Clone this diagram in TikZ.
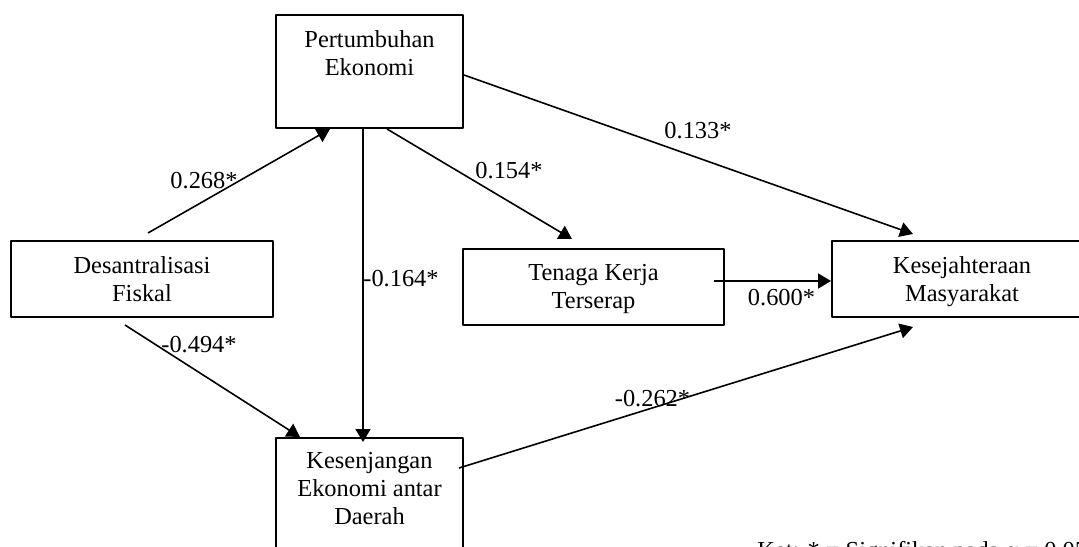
\documentclass[tikz,border=0pt]{standalone}
\usepackage{fontspec}
\setmainfont{Liberation Serif}
\usepackage{tikz}
\usetikzlibrary{arrows.meta}
\usetikzlibrary{positioning}
\tikzset{box/.style={draw, line width=1pt, inner sep=0pt}}
\tikzset{txt/.style={align=center, inner sep=0pt}}
\tikzset{lbl/.style={inner sep=0pt, anchor=base}}
\tikzset{arr/.style={line width=.8pt, -{Triangle[length=6.5pt,width=7.5pt]}}}

\begin{document}
\begin{tikzpicture}[line join=round, x=.5pt, y=-.5pt, font=\fontsize{12.2}{14}\selectfont]
            \path[use as bounding box, clip] (0,0) rectangle (1079,546);
            \node[box, minimum width=93.5pt, minimum height=56.5pt] (pe) at (369.5,71.5) {};
            \node[box, minimum width=131pt, minimum height=38pt] (df) at (142,279) {};
            \node[box, minimum width=93.5pt, minimum height=61pt] (kj) at (369.5,499) {};
            \node[box, minimum width=130.5pt, minimum height=38pt] (tk) at (593.5,287) {};
            \node[box, minimum width=130pt, minimum height=38pt] (km) at (962,279) {};
            \node[txt, below=8.2pt of pe.north] (pet) {Pertumbuhan\\Ekonomi};
            \node[txt, below=8.2pt of df.north] (dft) {Desantralisasi\\Fiskal};
            \node[txt, below=7.6pt of kj.north] (kjt) {Kesenjangan\\Ekonomi antar\\Daerah};
            \node[txt, below=8.2pt of tk.north] (tkt) {Tenaga Kerja\\Terserap};
            \node[txt, below=8.2pt of km.north] (kmt) {Kesejahteraan\\Masyarakat};
            \draw[arr] ([xshift=3pt,yshift=3.5pt]df.north) -- ([xshift=-19.75pt]pe.south);
            \draw[arr] ([xshift=-8.5pt,yshift=-3.5pt]df.south) -- ([xshift=-34.75pt]kj.north);
            \draw[arr] ([xshift=-3.25pt]pe.south) -- ([xshift=-3.25pt,yshift=-2.5pt]kj.north);
            \draw[arr] ([xshift=8.75pt]pe.south) -- ([xshift=-10.75pt,yshift=4.5pt]tk.north);
            \draw[arr] ([yshift=-1.75pt]pe.east) -- ([xshift=-24.5pt,yshift=3pt]km.north);
            \draw[arr] ([xshift=-5.5pt,yshift=3pt]tk.east) -- ([yshift=-1pt]km.west);
            \draw[arr] ([xshift=-2.5pt,yshift=-15.5pt]kj.north east) -- ([xshift=-24.5pt,yshift=-4.5pt]km.south);
            \node[lbl] (l1) at (204,188) {0.268*};
            \node[lbl] (l2) at (199,352) {-0.494*};
            \node[lbl, anchor=base west] (l3) at (363,286) {-0.164*};
            \node[lbl] (l4) at (509,178) {0.154*};
            \node[lbl] (l5) at (698,138) {0.133*};
            \node[lbl] (l6) at (781.5,305) {0.600*};
            \node[lbl] (l7) at (652.5,406) {-0.262*};
            \node[lbl, anchor=base west] (ket) at (757,558) {Ket: * = Signifikan pada α = 0.05};
          \end{tikzpicture}
\end{document}
